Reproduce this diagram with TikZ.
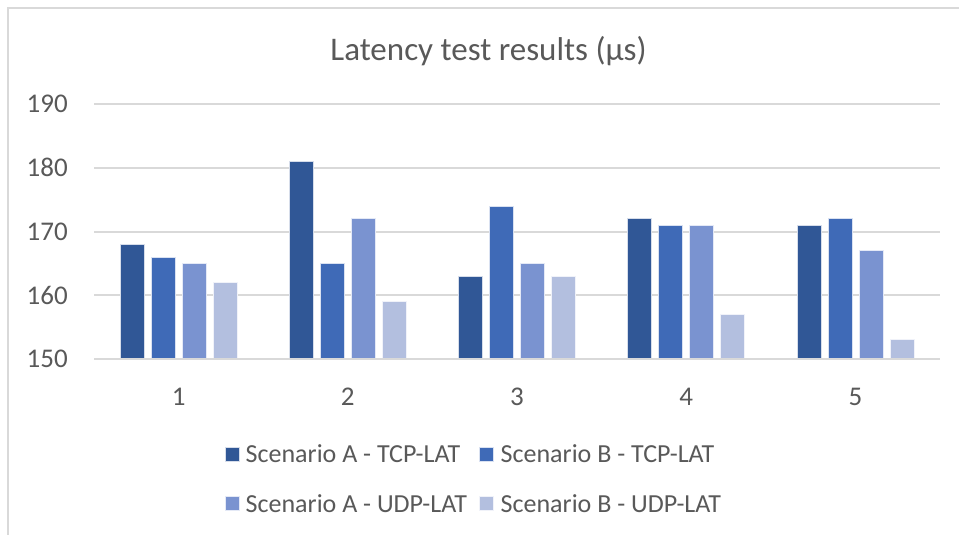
\documentclass[tikz,border=0pt]{standalone}
\usepackage{fontspec}
\setmainfont{Carlito}
\definecolor{txt}{HTML}{595959}
\definecolor{grid}{HTML}{D9D9D9}
\definecolor{sA}{HTML}{305796}
\definecolor{sB}{HTML}{3F6AB7}
\definecolor{sC}{HTML}{7A93D0}
\definecolor{sD}{HTML}{B3BFDF}
\begin{document}
\begin{tikzpicture}[x=1pt,y=-1pt,
  gridline/.style={draw=grid,line width=2pt},
  bar/.style={draw=white!80!#1,line width=0.8pt,fill=#1},
  ticklab/.style={text=txt,font=\fontsize{27}{30}\selectfont,inner sep=0pt},
  legtext/.style={text=txt,font=\fontsize{26}{30}\selectfont,inner sep=0pt,anchor=base west},
  legkey/.style={draw=white!80!#1,line width=0.6pt,fill=#1}]
\useasboundingbox (0,0) rectangle (959,535);
\fill[white] (0,0) rectangle (959,535);
% chart frame (top and left edges fall inside the page)
\draw[draw=grid,line width=2pt] (7.5,545) -- (7.5,8) -- (970,8);

% title
\node[text=txt,font=\fontsize{33}{36}\selectfont,inner sep=0pt,anchor=base] (title) at (488.5,61) {Latency test results (µs)};

% value axis: y(v) = 359 - (v-150)*6.375
\foreach \v [count=\k] in {150,160,170,180,190} {
  \pgfmathsetmacro{\yy}{359-(\v-150)*6.375}
  \draw[gridline] (94,\yy) -- (940,\yy);
  \node[ticklab,anchor=east] (ytick\k) at (68,\yy) {\v};
}

% bars: groups of four series
\def\ybase{359}
\foreach \grp/\va/\vb/\vc/\vd in {1/168/166/165/162, 2/181/165/172/159, 3/163/174/165/163, 4/172/171/171/157, 5/171/172/167/153} {
  \pgfmathsetmacro{\cx}{94+169.2*(\grp-0.5)}
  \foreach \j/\val/\col in {1/\va/sA, 2/\vb/sB, 3/\vc/sC, 4/\vd/sD} {
    \pgfmathsetmacro{\bx}{\cx+(\j-2.5)*31}
    \pgfmathsetmacro{\ty}{359-(\val-150)*6.375}
    \draw[bar=\col] (\bx-12,\ybase) rectangle (\bx+12,\ty);
  }
  \node[ticklab] (xtick\grp) at (\cx,397) {\grp};
}
% baseline drawn over the bar feet
\draw[gridline] (94,359) -- (940,359);

% legend
\draw[legkey=sA] (225,447) rectangle (239,461);
\node[legtext] (legA) at (245.5,462) {Scenario A - TCP-LAT};
\draw[legkey=sB] (479,447) rectangle (493,461);
\node[legtext] (legB) at (500.5,462) {Scenario B - TCP-LAT};
\draw[legkey=sC] (225,496.5) rectangle (239,510.5);
\node[legtext] (legC) at (245.5,512) {Scenario A - UDP-LAT};
\draw[legkey=sD] (479,496.5) rectangle (493,510.5);
\node[legtext] (legD) at (500.5,512) {Scenario B - UDP-LAT};
\end{tikzpicture}
\end{document}
